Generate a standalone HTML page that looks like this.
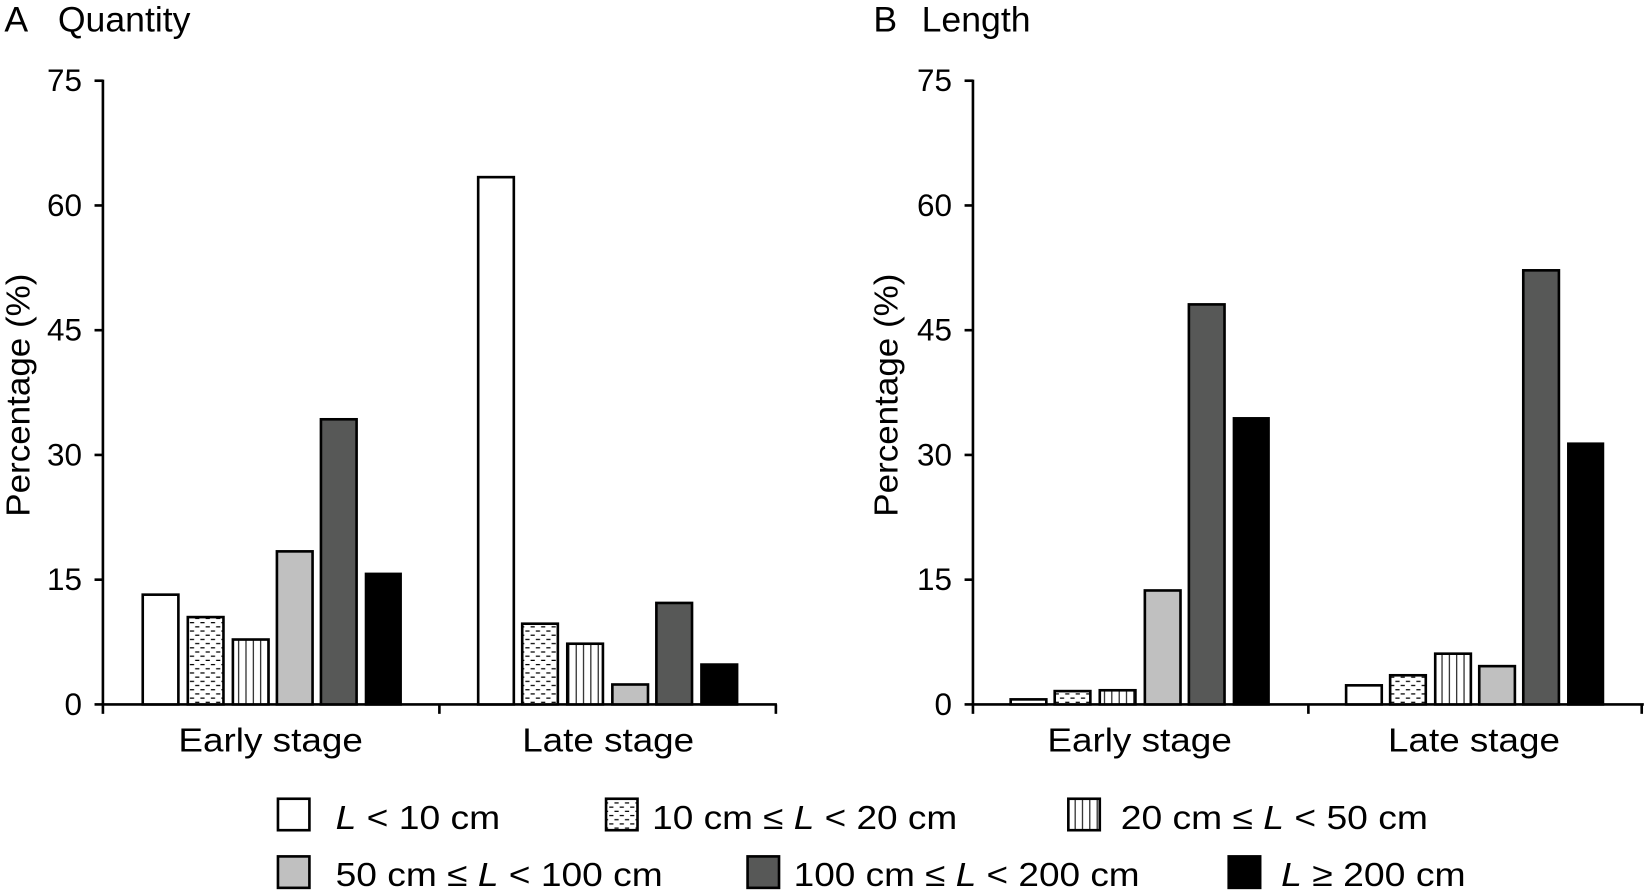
<!DOCTYPE html>
<html><head><meta charset="utf-8"><style>html,body{margin:0;padding:0;background:#fff}svg{display:block}text{font-family:"Liberation Sans",sans-serif;fill:#000}</style></head>
<body>
<svg width="1644" height="891" viewBox="0 0 1568 850" xmlns="http://www.w3.org/2000/svg">
<defs>
<pattern id="dash" patternUnits="userSpaceOnUse" width="10" height="8">
<rect width="10" height="8" fill="#fff"/>
<line x1="1" y1="2" x2="5" y2="2" stroke="#000" stroke-width="1.2"/>
<line x1="6" y1="6" x2="10" y2="6" stroke="#000" stroke-width="1.2"/>
</pattern>
<pattern id="vert" patternUnits="userSpaceOnUse" width="7" height="10">
<rect width="7" height="10" fill="#fff"/>
<line x1="3.5" y1="0" x2="3.5" y2="10" stroke="#000" stroke-width="1"/>
</pattern>
</defs>
<g stroke="#000" stroke-width="2.5">
<line x1="98" y1="76" x2="98" y2="673"/>
<line x1="97" y1="672" x2="741" y2="672"/>
<line x1="90" y1="77" x2="98" y2="77"/><line x1="90" y1="196" x2="98" y2="196"/><line x1="90" y1="315" x2="98" y2="315"/><line x1="90" y1="434" x2="98" y2="434"/><line x1="90" y1="553" x2="98" y2="553"/><line x1="90" y1="672" x2="98" y2="672"/>
<line x1="98" y1="672" x2="98" y2="681"/><line x1="419" y1="672" x2="419" y2="681"/><line x1="740" y1="672" x2="740" y2="681"/>
<line x1="928" y1="76" x2="928" y2="673"/>
<line x1="927" y1="672" x2="1568" y2="672"/>
<line x1="920" y1="77" x2="928" y2="77"/><line x1="920" y1="196" x2="928" y2="196"/><line x1="920" y1="315" x2="928" y2="315"/><line x1="920" y1="434" x2="928" y2="434"/><line x1="920" y1="553" x2="928" y2="553"/><line x1="920" y1="672" x2="928" y2="672"/>
<line x1="928" y1="672" x2="928" y2="681"/><line x1="1248" y1="672" x2="1248" y2="681"/><line x1="1566" y1="672" x2="1566" y2="681"/>
</g>
<g stroke="#000" stroke-width="2.5">
<rect x="136" y="567.3" width="34" height="104.7" fill="#fff"/>
<rect x="179" y="588.7" width="34" height="83.3" fill="url(#dash)"/>
<rect x="222" y="610.1" width="34" height="61.9" fill="url(#vert)"/>
<rect x="264" y="526" width="34" height="146" fill="#c0c0c0"/>
<rect x="306" y="400" width="34" height="272" fill="#575857"/>
<rect x="349" y="547.5" width="33" height="124.5" fill="#000"/>
<rect x="456" y="169" width="34" height="503" fill="#fff"/>
<rect x="498" y="595" width="34" height="77" fill="url(#dash)"/>
<rect x="541" y="614.1" width="34" height="57.9" fill="url(#vert)"/>
<rect x="584" y="653" width="34" height="19" fill="#c0c0c0"/>
<rect x="626" y="575.2" width="34" height="96.8" fill="#575857"/>
<rect x="669" y="634" width="34" height="38" fill="#000"/>
<rect x="964" y="667.2" width="34" height="4.8" fill="#fff"/>
<rect x="1006" y="659.3" width="34" height="12.7" fill="url(#dash)"/>
<rect x="1049" y="658.5" width="34" height="13.5" fill="url(#vert)"/>
<rect x="1092" y="563.3" width="34" height="108.7" fill="#c0c0c0"/>
<rect x="1134" y="290.4" width="34" height="381.6" fill="#575857"/>
<rect x="1177" y="399.1" width="33" height="272.9" fill="#000"/>
<rect x="1284" y="653.8" width="34" height="18.2" fill="#fff"/>
<rect x="1326" y="644.2" width="34" height="27.8" fill="url(#dash)"/>
<rect x="1369" y="623.6" width="34" height="48.4" fill="url(#vert)"/>
<rect x="1411" y="635.5" width="34" height="36.5" fill="#c0c0c0"/>
<rect x="1453" y="257.9" width="34" height="414.1" fill="#575857"/>
<rect x="1496" y="423.3" width="33" height="248.7" fill="#000"/>
<rect x="265" y="762" width="30" height="30" fill="#fff"/>
<rect x="578" y="762" width="30" height="30" fill="url(#dash)"/>
<rect x="1019" y="762" width="30" height="30" fill="url(#vert)"/>
<rect x="265" y="817" width="30" height="30" fill="#c0c0c0"/>
<rect x="713" y="817" width="30" height="30" fill="#575857"/>
<rect x="1172" y="817" width="30" height="30" fill="#000"/>
</g>
<g font-size="30" text-anchor="end">
<text x="78" y="87">75</text><text x="78" y="206">60</text><text x="78" y="325">45</text><text x="78" y="444">30</text><text x="78" y="563">15</text><text x="78" y="682">0</text>
<text x="908" y="87">75</text><text x="908" y="206">60</text><text x="908" y="325">45</text><text x="908" y="444">30</text><text x="908" y="563">15</text><text x="908" y="682">0</text>
</g>
<g font-size="32" lengthAdjust="spacingAndGlyphs">
<text x="170" y="717" textLength="176" lengthAdjust="spacingAndGlyphs">Early stage</text><text x="498" y="717" textLength="164" lengthAdjust="spacingAndGlyphs">Late stage</text>
<text x="999" y="717" textLength="176" lengthAdjust="spacingAndGlyphs">Early stage</text><text x="1324" y="717" textLength="164" lengthAdjust="spacingAndGlyphs">Late stage</text>
<text transform="translate(28,493) rotate(-90)" textLength="232" lengthAdjust="spacingAndGlyphs">Percentage (%)</text>
<text transform="translate(856,493) rotate(-90)" textLength="232" lengthAdjust="spacingAndGlyphs">Percentage (%)</text>
</g>
<g font-size="34">
<text x="4" y="30">A</text><text x="55" y="30">Quantity</text>
<text x="833" y="30">B</text><text x="879" y="30">Length</text>
</g>
<g font-size="32">
<text x="320" y="791" textLength="157" lengthAdjust="spacingAndGlyphs"><tspan font-style="italic">L</tspan> &lt; 10 cm</text>
<text x="622" y="791" textLength="291" lengthAdjust="spacingAndGlyphs">10 cm ≤ <tspan font-style="italic">L</tspan> &lt; 20 cm</text>
<text x="1069" y="791" textLength="293" lengthAdjust="spacingAndGlyphs">20 cm ≤ <tspan font-style="italic">L</tspan> &lt; 50 cm</text>
<text x="320" y="845" textLength="312" lengthAdjust="spacingAndGlyphs">50 cm ≤ <tspan font-style="italic">L</tspan> &lt; 100 cm</text>
<text x="757" y="845" textLength="330" lengthAdjust="spacingAndGlyphs">100 cm ≤ <tspan font-style="italic">L</tspan> &lt; 200 cm</text>
<text x="1222" y="845" textLength="176" lengthAdjust="spacingAndGlyphs"><tspan font-style="italic">L</tspan> ≥ 200 cm</text>
</g>
</svg>
</body></html>
